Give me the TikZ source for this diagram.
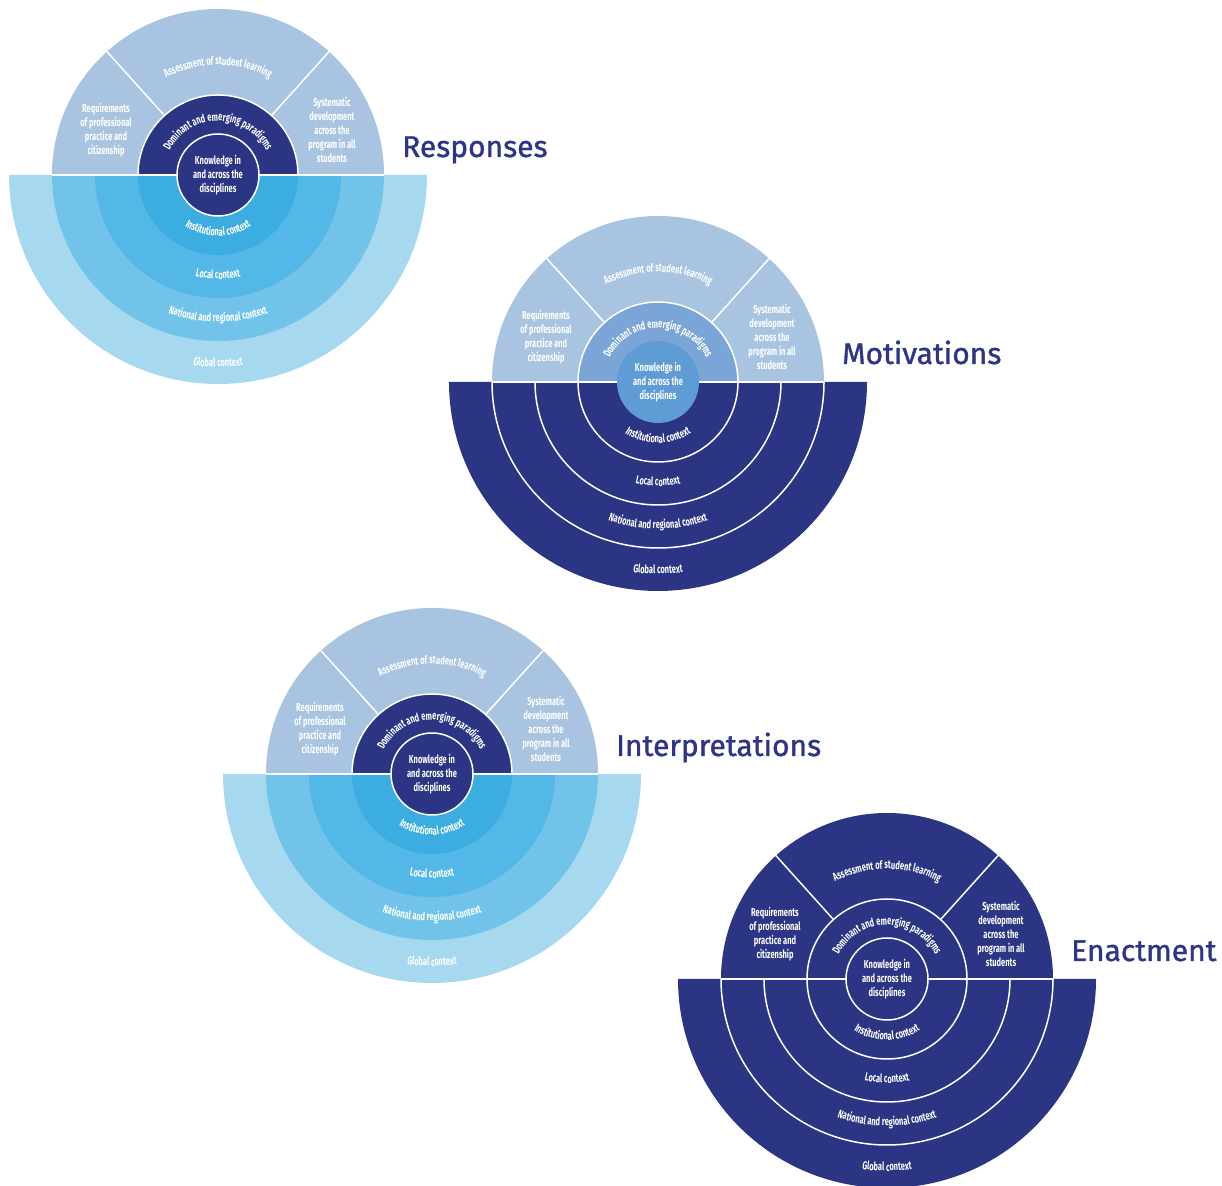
\documentclass[tikz,border=0pt]{standalone}
\usepackage{fontspec}
\setmainfont{Fira Sans}
\newfontfamily\condfont[FakeStretch=0.65]{Fira Sans}
\newfontfamily\titlefont[FakeBold=1.2]{Fira Sans}
\usetikzlibrary{decorations.text}

\definecolor{navy}{RGB}{44,53,131}
\definecolor{titleblue}{RGB}{46,53,133}
\definecolor{paleblue}{RGB}{169,196,225}

% schema chiaro
\colorlet{pale-sec}{paleblue}
\colorlet{pale-dom}{navy}
\colorlet{pale-kno}{navy}
\definecolor{pale-ins}{RGB}{60,173,225}
\definecolor{pale-loc}{RGB}{83,184,231}
\definecolor{pale-nat}{RGB}{113,195,234}
\definecolor{pale-glo}{RGB}{166,216,240}
% schema medio
\colorlet{mid-sec}{paleblue}
\definecolor{mid-dom}{RGB}{122,165,214}
\definecolor{mid-kno}{RGB}{95,155,213}
\colorlet{mid-ins}{navy}
\colorlet{mid-loc}{navy}
\colorlet{mid-nat}{navy}
\colorlet{mid-glo}{navy}
% schema scuro
\colorlet{dark-sec}{navy}
\colorlet{dark-dom}{navy}
\colorlet{dark-kno}{navy}
\colorlet{dark-ins}{navy}
\colorlet{dark-loc}{navy}
\colorlet{dark-nat}{navy}
\colorlet{dark-glo}{navy}

\newcommand\smalltxt{\condfont\bfseries\fontsize{11.5}{14}\selectfont}

\tikzset{
  sepline/.style={draw=white, line width=1.5pt},
  pale-sep/.style={draw=none},
  mid-sep/.style={sepline},
  dark-sep/.style={sepline},
  pale-kline/.style={sepline},
  mid-kline/.style={draw=none},
  dark-kline/.style={sepline},
  boxtext/.style={text=white, font=\smalltxt, align=center, inner sep=0pt},
  arctext/.style={decorate, decoration={text along path, text align=center,
    text color=white, text={|\smalltxt|#1}}},
  titletext/.style={text=titleblue, font=\titlefont\fontsize{30}{30}\selectfont,
    anchor=base west, inner sep=0pt}
}

\newcommand\wheel[5]{%
\begin{scope}[shift={(#1,#2)}]
% meta inferiore
\fill[#5-glo] (-209pt,0) arc[start angle=180, end angle=360, radius=209pt] -- cycle;
\fill[#5-nat] (-166pt,0) arc[start angle=180, end angle=360, radius=166pt] -- cycle;
\fill[#5-loc] (-123pt,0) arc[start angle=180, end angle=360, radius=123pt] -- cycle;
\fill[#5-ins] (-80pt,0) arc[start angle=180, end angle=360, radius=80pt] -- cycle;
% meta superiore
\fill[#5-sec] (-166pt,0) arc[start angle=180, end angle=0, radius=166pt] -- cycle;
\fill[#5-dom] (-80pt,0) arc[start angle=180, end angle=0, radius=80pt] -- cycle;
\fill[#5-kno] (0,0) circle[radius=41pt];
% linee bianche
\draw[#5-sep] (-166pt,0) arc[start angle=180, end angle=360, radius=166pt];
\draw[#5-sep] (-123pt,0) arc[start angle=180, end angle=360, radius=123pt];
\draw[#5-sep] (-80pt,0) arc[start angle=180, end angle=360, radius=80pt];
\draw[sepline] (-80pt,0) arc[start angle=180, end angle=0, radius=80pt];
\draw[sepline] (132:80pt) -- (132:166pt) (48:80pt) -- (48:166pt);
\draw[sepline] (-166pt,0) -- (-41pt,0) (41pt,0) -- (166pt,0);
\draw[#5-kline] (0,0) circle[radius=41pt];
% testi
\node[boxtext] (#3-know) at (0,0) {Knowledge in\\and across the\\disciplines};
\node[boxtext] (#3-req) at (-112pt,45pt) {Requirements\\of professional\\practice and\\citizenship};
\node[boxtext] (#3-sys) at (114pt,45pt) {Systematic\\development\\across the\\program in all\\students};
\path[arctext=Assessment of student learning] (150:110pt) arc[start angle=150, end angle=30, radius=110pt];
\path[arctext=Dominant and emerging paradigms] (178:54pt) arc[start angle=178, end angle=2, radius=54pt];
\path[arctext=Institutional context] (200:61pt) arc[start angle=200, end angle=340, radius=61pt];
\path[arctext=Local context] (240:104pt) arc[start angle=240, end angle=300, radius=104pt];
\path[arctext=National and regional context] (225:147pt) arc[start angle=225, end angle=315, radius=147pt];
\path[arctext=Global context] (250:192pt) arc[start angle=250, end angle=290, radius=192pt];
\node[titletext] (#3-title) at (184pt,18pt) {#4};
\end{scope}}

\begin{document}
\begin{tikzpicture}[x=1pt, y=1pt]

\useasboundingbox (0,0) rectangle (1222,1185);

% Le quattro ruote
\wheel{218}{1010}{resp}{Responses}{pale}
\wheel{658}{803}{moti}{Motivations}{mid}
\wheel{432}{411}{inte}{Interpretations}{pale}
\wheel{887}{206}{enac}{Enactment}{dark}

\end{tikzpicture}
\end{document}
